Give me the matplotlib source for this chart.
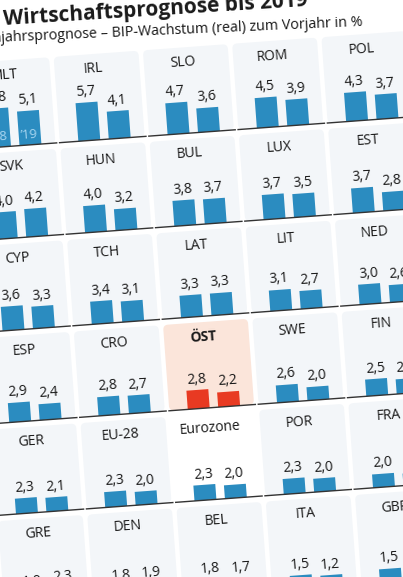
import matplotlib
matplotlib.use("Agg")
import matplotlib.pyplot as plt
from matplotlib.transforms import Affine2D
from matplotlib.patches import FancyBboxPatch

# ---------------- data ----------------
countries = ["MLT", "IRL", "SLO", "ROM", "POL",
             "SVK", "HUN", "BUL", "LUX", "EST",
             "CYP", "TCH", "LAT", "LIT", "NED",
             "ESP", "CRO", "ÖST", "SWE", "FIN",
             "GER", "EU-28", "Eurozone", "POR", "FRA",
             "GRE", "DEN", "BEL", "ITA", "GBR"]
growth_2018 = [5.8, 5.7, 4.7, 4.5, 4.3,
               4.0, 4.0, 3.8, 3.7, 3.7,
               3.6, 3.4, 3.3, 3.1, 3.0,
               2.9, 2.8, 2.8, 2.6, 2.5,
               2.3, 2.3, 2.3, 2.3, 2.0,
               1.9, 1.8, 1.8, 1.5, 1.5]
growth_2019 = [5.1, 4.1, 3.6, 3.9, 3.7,
               4.2, 3.2, 3.7, 3.5, 2.8,
               3.3, 3.1, 3.3, 2.7, 2.6,
               2.4, 2.7, 2.2, 2.0, 2.2,
               2.1, 2.0, 2.0, 2.0, 1.8,
               2.3, 1.9, 1.7, 1.2, 1.2]
year_labels = ["\u201918", "\u201919"]
title = "Wirtschaftsprognose bis 2019"
subtitle_prefix = "Früh"
subtitle_rest = "jahrsprognose \u2013 BIP-Wachstum (real) zum Vorjahr in %"
highlight = "ÖST"
no_background = ["Eurozone"]

# ---------------- style ----------------
plt.rcParams["font.family"] = ["Open Sans", "DejaVu Sans"]
BLUE = "#2b8cc0"
RED = "#e83a22"
PANEL_BG = "#f3f6f9"
HILITE_BG = "#fbe5da"
TEXT = "#1a1a1a"
THETA = 4.2          # tilt of the photographed page (degrees)
PX, PY = 89.5, 91.8  # panel pitch (px)
W, H = 85, 86        # panel size (px)
UNIT = 6.7           # px per percentage point
BAR_PITCH = 30.5
NCOL = 5

fig = plt.figure(figsize=(4.03, 5.77), dpi=100)
fig.patch.set_facecolor("white")
ax = fig.add_axes([0, 0, 1, 1])
ax.set_axis_off()
ax.set_xlim(0, 403)
ax.set_ylim(577, 0)

ROT = Affine2D().rotate_deg(-THETA).translate(163, 325)
base = ROT + ax.transData

for i, name in enumerate(countries):
    r, c = divmod(i, NCOL)
    u = (c - 2) * PX
    v = (r - 3) * PY
    is_hi = name == highlight
    if name not in no_background:
        bg = FancyBboxPatch((u, v), W, H,
                            boxstyle="round,pad=0,rounding_size=5",
                            fc=HILITE_BG if is_hi else PANEL_BG, ec="none",
                            transform=base, zorder=0)
        ax.add_patch(bg)
    ax.plot([u - 1, u + W + 2], [v + H, v + H], color="#333333", lw=1.0,
            transform=base, zorder=3, solid_capstyle="butt")
    ax.text(u + 39, v + 15, name, transform=base, ha="center", va="center",
            rotation=THETA, rotation_mode="anchor", fontsize=10, color=TEXT,
            fontweight="bold" if is_hi else "normal", zorder=4)
    bt = Affine2D().scale(BAR_PITCH, -UNIT).translate(u + 29.5, v + H) + base
    vals = [growth_2018[i], growth_2019[i]]
    ax.bar([0, 1], vals, width=0.72, color=RED if is_hi else BLUE,
           transform=bt, zorder=2)
    for j, val in enumerate(vals):
        ax.text(j, val + 0.45, f"{val:.1f}".replace(".", ","), transform=bt,
                ha="center", va="bottom", rotation=THETA,
                rotation_mode="anchor", fontsize=10, color=TEXT, zorder=4)
    if i == 0:
        for j, yl in enumerate(year_labels):
            ax.text(j, 0.5, yl, transform=bt, ha="center", va="bottom",
                    rotation=THETA, rotation_mode="anchor", fontsize=9.5,
                    color="#a9d6f0", zorder=4)

# headline
ax.text(4, 25, title, transform=ax.transData, ha="left", va="baseline",
        rotation=3.6, rotation_mode="anchor", fontsize=15, fontweight="bold",
        color=TEXT)

# subtitle: size it so the visible part spans the width seen in the reference
probe = ax.text(0, 0, subtitle_rest, fontsize=10)
fig.canvas.draw()
sub_size = 10 * 361.0 / probe.get_window_extent().width
probe.remove()
ax.text(363, 26, subtitle_prefix + subtitle_rest, transform=ax.transData,
        ha="right", va="baseline", rotation=2.5, rotation_mode="anchor",
        fontsize=sub_size, color=TEXT)

fig.savefig("out.png", dpi=100, facecolor="white")
